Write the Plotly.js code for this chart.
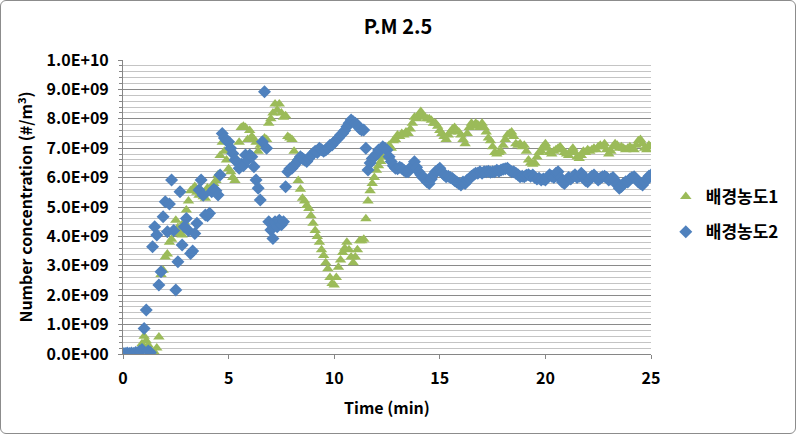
<!DOCTYPE html>
<html>
<head>
<meta charset="utf-8">
<script src="https://cdn.plot.ly/plotly-3.0.1.min.js"></script>
<style>
  html, body { margin: 0; padding: 0; background: #fff; }
  #wrap { position: relative; width: 796px; height: 434px; }
  #chart { width: 796px; height: 434px; }
  #frame { position: absolute; left: 0; top: 0; width: 796px; height: 434px; box-sizing: border-box;
           border: 1px solid #8c8c8c; border-radius: 6px; pointer-events: none; }
</style>
</head>
<body>
<div id="wrap"><div id="chart"></div><div id="frame"></div></div>
<script>
// Time (min), sampled every 0.1 min
const time = [
  0.0,0.1,0.2,0.3,0.4,0.5,0.6,0.7,0.8,0.9,
  1.0,1.1,1.2,1.3,1.4,1.5,1.6,1.7,1.8,1.9,
  2.0,2.1,2.2,2.3,2.4,2.5,2.6,2.7,2.8,2.9,
  3.0,3.1,3.2,3.3,3.4,3.5,3.6,3.7,3.8,3.9,
  4.0,4.1,4.2,4.3,4.4,4.5,4.6,4.7,4.8,4.9,
  5.0,5.1,5.2,5.3,5.4,5.5,5.6,5.7,5.8,5.9,
  6.0,6.1,6.2,6.3,6.4,6.5,6.6,6.7,6.8,6.9,
  7.0,7.1,7.2,7.3,7.4,7.5,7.6,7.7,7.8,7.9,
  8.0,8.1,8.2,8.3,8.4,8.5,8.6,8.7,8.8,8.9,
  9.0,9.1,9.2,9.3,9.4,9.5,9.6,9.7,9.8,9.9,
  10.0,10.1,10.2,10.3,10.4,10.5,10.6,10.7,10.8,10.9,
  11.0,11.1,11.2,11.3,11.4,11.5,11.6,11.7,11.8,11.9,
  12.0,12.1,12.2,12.3,12.4,12.5,12.6,12.7,12.8,12.9,
  13.0,13.1,13.2,13.3,13.4,13.5,13.6,13.7,13.8,13.9,
  14.0,14.1,14.2,14.3,14.4,14.5,14.6,14.7,14.8,14.9,
  15.0,15.1,15.2,15.3,15.4,15.5,15.6,15.7,15.8,15.9,
  16.0,16.1,16.2,16.3,16.4,16.5,16.6,16.7,16.8,16.9,
  17.0,17.1,17.2,17.3,17.4,17.5,17.6,17.7,17.8,17.9,
  18.0,18.1,18.2,18.3,18.4,18.5,18.6,18.7,18.8,18.9,
  19.0,19.1,19.2,19.3,19.4,19.5,19.6,19.7,19.8,19.9,
  20.0,20.1,20.2,20.3,20.4,20.5,20.6,20.7,20.8,20.9,
  21.0,21.1,21.2,21.3,21.4,21.5,21.6,21.7,21.8,21.9,
  22.0,22.1,22.2,22.3,22.4,22.5,22.6,22.7,22.8,22.9,
  23.0,23.1,23.2,23.3,23.4,23.5,23.6,23.7,23.8,23.9,
  24.0,24.1,24.2,24.3,24.4,24.5,24.6,24.7,24.8,24.9,
  25.0
];

// 배경농도1 (units of 1E+09 #/m3)
const bg1 = [
  0,0,0,0,0,0,0.02,0.05,0.15,0.35,
  0.6,0.45,0.3,0.1,0.02,0.05,0.2,0.58,2.7,2.85,
  3.3,3.4,3.8,3.9,4.2,4.55,4.3,4.1,4.05,4.5,
  4.9,5.2,5.55,5.6,5.7,5.5,5.4,5.5,5.35,5.3,
  5.65,5.6,5.5,5.8,5.9,6.1,6.75,7.2,6.9,6.6,
  6.3,6.2,6.0,5.9,6.6,7.2,7.7,7.75,7.7,7.3,
  7.6,7.4,7.3,7.2,6.9,7.1,7.25,7.35,7.3,7.85,
  8.0,8.2,8.5,8.3,8.5,8.2,8.05,8.1,7.4,7.35,
  7.3,6.9,6.6,5.9,5.6,5.3,5.2,5.05,4.95,4.7,
  4.45,4.2,4.0,3.8,3.55,3.35,3.1,2.9,2.6,2.4,
  2.35,2.6,2.95,3.2,3.45,3.6,3.8,3.55,3.3,3.1,
  3.3,3.55,3.85,3.85,3.9,4.6,5.2,5.55,5.8,6.0,
  6.25,6.4,6.55,6.7,6.9,7.0,7.1,7.0,7.25,7.3,
  7.45,7.4,7.5,7.45,7.55,7.5,7.65,7.85,8.05,8.0,
  8.1,8.25,8.1,8.05,8.0,8.0,7.95,7.85,7.85,7.75,
  7.6,7.5,7.4,7.3,7.45,7.55,7.65,7.7,7.6,7.55,
  7.45,7.3,7.15,7.5,7.7,7.85,7.75,7.85,7.8,7.7,
  7.85,7.7,7.55,7.35,7.25,7.05,6.85,6.8,6.85,6.9,
  7.1,7.3,7.45,7.5,7.55,7.4,7.15,7.1,7.15,7.05,
  7.1,6.9,6.6,6.5,6.45,6.5,6.7,6.85,6.9,7.05,
  7.15,7.0,6.85,6.8,6.9,6.95,7.0,7.05,6.95,6.85,
  6.8,6.75,6.9,7.0,6.85,6.7,6.65,6.75,6.9,6.85,
  6.95,6.9,6.95,7.0,6.95,7.05,7.1,7.05,7.15,6.95,
  6.8,6.9,7.05,7.15,7.1,7.0,7.05,7.0,6.95,7.0,
  7.05,7.0,6.95,7.1,7.25,7.3,7.15,7.0,6.95,7.1,
  7.05
];

// 배경농도2 (units of 1E+09 #/m3)
const bg2 = [
  0.02,0.02,0.03,0.02,0.03,0.02,0.05,0.04,0.1,0.15,
  0.87,1.5,0.1,0.05,3.65,4.33,4.05,2.35,2.8,4.67,
  5.18,4.16,5.1,5.92,4.2,2.18,3.14,5.52,3.71,4.33,
  4.61,4.2,3.42,3.5,4.1,4.45,5.58,5.92,5.4,4.73,
  4.7,4.79,5.52,5.6,5.55,5.41,6.09,7.5,7.35,7.25,
  7.22,7.0,6.82,6.6,6.54,6.32,6.45,6.4,6.77,6.6,
  6.77,6.71,6.37,5.92,5.64,5.24,7.22,8.92,7.0,4.5,
  4.22,3.93,4.5,4.33,4.55,4.4,4.5,5.69,6.2,6.3,
  6.32,6.4,6.5,6.6,6.71,6.65,6.6,6.55,6.65,6.75,
  6.82,6.9,6.85,7.0,6.95,6.9,6.94,7.0,7.1,7.11,
  7.2,7.28,7.35,7.45,7.5,7.6,7.73,7.85,7.96,7.9,
  7.85,7.79,7.67,7.62,7.62,7.0,6.26,6.5,6.65,6.71,
  6.8,6.94,6.95,7.05,7.0,6.94,6.71,6.55,6.4,6.32,
  6.3,6.35,6.32,6.25,6.2,6.2,6.3,6.4,6.54,6.35,
  6.2,6.1,6.0,5.97,5.85,5.8,5.95,6.1,6.2,6.25,
  6.32,6.2,6.1,6.03,6.05,6.0,5.97,5.9,5.85,5.8,
  5.75,5.85,5.8,5.92,5.95,6.05,6.1,6.15,6.15,6.2,
  6.15,6.2,6.2,6.22,6.18,6.2,6.2,6.25,6.22,6.26,
  6.28,6.3,6.32,6.25,6.2,6.2,6.15,6.1,6.03,6.05,
  6.03,6.08,6.1,6.05,6.09,6.0,5.95,5.98,5.92,5.95,
  5.92,6.0,6.1,6.05,6.0,6.15,6.2,6.0,5.85,5.8,
  5.9,6.0,5.95,6.03,6.1,6.0,6.05,6.15,6.05,5.9,
  5.86,5.95,6.05,6.09,6.0,5.92,5.98,6.03,6.05,6.0,
  5.92,5.95,6.0,5.9,5.75,5.64,5.7,5.8,5.86,5.85,
  5.95,6.0,6.03,5.95,5.85,5.8,5.75,5.85,5.95,6.05,
  6.09
];

const seriesNames = ['배경농도1', '배경농도2'];
const yTickVals = [0,1,2,3,4,5,6,7,8,9,10];
const yTickText = ['0.0E+00','1.0E+09','2.0E+09','3.0E+09','4.0E+09','5.0E+09',
                   '6.0E+09','7.0E+09','8.0E+09','9.0E+09','1.0E+10'];
const xTickVals = [0,5,10,15,20,25];

const SCALE = 1e9;
const toAbs = a => a.map(v => v * SCALE);

const font = "'Noto Sans CJK KR', 'Noto Sans', sans-serif";

const traces = [
  {
    x: time, y: toAbs(bg1), name: '<b>' + seriesNames[0] + '</b>', type: 'scatter', mode: 'markers', legendgroup: 'g1',
    marker: { symbol: 'triangle-up', size: 10, color: '#9BBB59' }
  },
  {
    x: time, y: toAbs(bg2), name: '<b>' + seriesNames[1] + '</b>', type: 'scatter', mode: 'markers', legendgroup: 'g2',
    marker: { symbol: 'diamond', size: 10, color: '#4F81BD' }
  }
];

const layout = {
  width: 796, height: 434,
  margin: { l: 123, r: 145, t: 60, b: 80 },
  paper_bgcolor: '#fff', plot_bgcolor: '#fff',
  font: { family: font, color: '#000' },
  title: { text: '<b>P.M 2.5</b>', font: { size: 20, family: font }, x: 0.5, xanchor: 'center', y: 0.938, yanchor: 'middle' },
  showlegend: true,
  legend: { x: 1.028, xanchor: 'left', y: 0.595, yanchor: 'top', font: { size: 17, family: font },
            tracegroupgap: 10, itemwidth: 30 },
  xaxis: {
    range: [0, 25], tickvals: xTickVals, ticktext: xTickVals.map(v => '<b>' + v + '</b>'),
    showgrid: false, zeroline: false, showline: true, linecolor: '#868686', linewidth: 1,
    ticks: 'outside', ticklen: 4, tickcolor: '#868686', ticklabelstandoff: 6,
    tickfont: { size: 16, family: font },
    title: { text: '<b>Time (min)</b>', font: { size: 16, family: font }, standoff: 14 }
  },
  yaxis: {
    range: [0, 10 * SCALE], tickvals: toAbs(yTickVals), ticktext: yTickText.map(t => '<b>' + t + '</b>'),
    showgrid: true, gridcolor: '#8a8a8a', gridwidth: 1, zeroline: false,
    showline: true, linecolor: '#868686', linewidth: 1,
    ticks: 'outside', ticklen: 4, tickcolor: '#868686', ticklabelstandoff: 6,
    minor: { dtick: 0.2 * SCALE, showgrid: true, gridcolor: '#c4c4c4', gridwidth: 1, ticks: 'outside', ticklen: 3, tickcolor: '#868686' },
    tickfont: { size: 16, family: font },
    title: { text: '<b>Number concentration (#/m<sup>3</sup>)</b>', font: { size: 16, family: font }, standoff: 9 }
  }
};

Plotly.newPlot('chart', traces, layout, { displayModeBar: false, staticPlot: true });
</script>
</body>
</html>
